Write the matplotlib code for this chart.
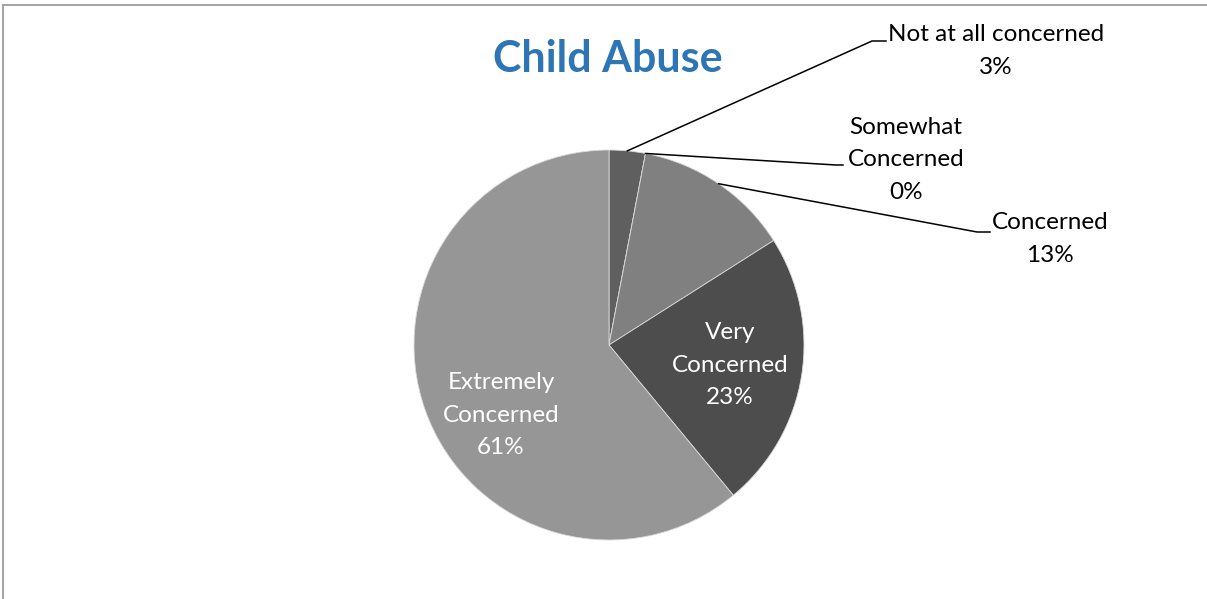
import numpy as np
import matplotlib.pyplot as plt
from matplotlib.lines import Line2D

labels = ["Not at all concerned", "Somewhat\nConcerned", "Concerned", "Very\nConcerned", "Extremely\nConcerned"]
values = [3, 0, 13, 23, 61]
colors = ["#5f5f5f", "#6f6f6f", "#808080", "#4d4d4d", "#969696"]

W, H = 1207, 599
fig = plt.figure(figsize=(W / 100, H / 100), dpi=100)
ax = fig.add_axes([0, 0, 1, 1])

cx, cy, r = 609, H - 345, 195
wedges, _ = ax.pie(values, colors=colors, startangle=90, counterclock=False,
                   center=(cx, cy), radius=r,
                   wedgeprops=dict(edgecolor="#d9d9d9", linewidth=0.6))
ax.set_xlim(0, W)
ax.set_ylim(0, H)
ax.set_aspect("equal")
ax.axis("off")

font = "Lato"
fs = 17.5
ls = 1.65

# outside labels: (text position, elbow start, elbow end)
outside = {
    0: ((996, H - 51), (872, H - 41), (886, H - 41)),
    1: ((906, H - 160), (836, H - 165), (843, H - 165)),
    2: ((1050, H - 239), (977, H - 232), (990, H - 232)),
}
for i, (tpos, e1, e2) in outside.items():
    w = wedges[i]
    mid = np.deg2rad((w.theta1 + w.theta2) / 2)
    if values[i] == 0:
        mid = np.deg2rad(w.theta1)
    px, py = cx + r * np.cos(mid), cy + r * np.sin(mid)
    ax.plot([px, e1[0], e2[0]], [py, e1[1], e2[1]], color="black", lw=1.1)
    ax.text(tpos[0], tpos[1], f"{labels[i]}\n{values[i]}%", ha="center", va="center",
            fontsize=fs, family=font, color="black", linespacing=ls)

inside = {3: (730, H - 365), 4: (501, H - 415)}
for i, (x, y) in inside.items():
    ax.text(x, y, f"{labels[i]}\n{values[i]}%", ha="center", va="center",
            fontsize=fs, family=font, color="white", linespacing=ls)

ax.text(608, H - 59, "Child Abuse", ha="center", va="center", fontsize=31,
        fontweight="bold", family=font, color="#2e75b6")

# chart frame
fig.add_artist(Line2D([2.5 / W, 2.5 / W], [0, 1 - 5 / H], transform=fig.transFigure,
                      color="#a6a6a6", lw=1.5))
fig.add_artist(Line2D([2.5 / W, 1], [1 - 5 / H, 1 - 5 / H], transform=fig.transFigure,
                      color="#a6a6a6", lw=1.5))

fig.savefig("out.png", dpi=100)
